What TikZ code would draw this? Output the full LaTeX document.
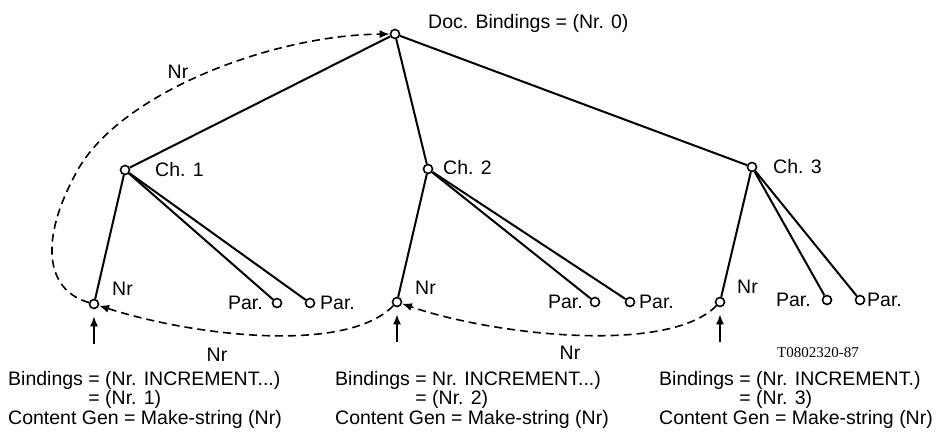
\documentclass[tikz,border=0pt]{standalone}
\usepackage{fontspec}
\setmainfont{Liberation Sans}
\newfontfamily\figidfont{Liberation Serif}
\usetikzlibrary{positioning,arrows.meta}

\begin{document}
\begin{tikzpicture}[x=1pt,y=-1pt,font=\fontsize{19.5}{17}\selectfont,
  dot/.style={circle,draw,fill=white,line width=1.6pt,minimum size=9pt,inner sep=0pt},
  lbl/.style={inner sep=0pt,anchor=west},
  edge/.style={line width=2pt},
  nrflow/.style={dash pattern=on 8pt off 5pt,line width=1.6pt,-{Latex[length=10pt,width=8pt]}},
  uparrow/.style={line width=1.6pt,-{Latex[length=10pt,width=8pt]}},
  binding/.style={inner sep=0pt,anchor=base west,align=left}]
\useasboundingbox (0,0) rectangle (939,434);
% tree
\node[dot] (doc) at (395,34) {};
\node[dot] (ch1) at (125,170) {};
\node[dot] (ch2) at (428,169) {};
\node[dot] (ch3) at (752,167) {};
\node[dot] (nr1) at (94,304) {};
\node[dot] (p1a) at (277,303) {};
\node[dot] (p1b) at (310,303) {};
\node[dot] (nr2) at (397,302) {};
\node[dot] (p2a) at (595,302) {};
\node[dot] (p2b) at (630,302) {};
\node[dot] (nr3) at (720,302) {};
\node[dot] (p3a) at (827,300) {};
\node[dot] (p3b) at (860,300) {};
\foreach \c in {ch1,ch2,ch3} \draw[edge] (doc) -- (\c);
\draw[edge] (ch1) -- (nr1); \draw[edge] (ch1) -- (p1a); \draw[edge] (ch1) -- (p1b);
\draw[edge] (ch2) -- (nr2); \draw[edge] (ch2) -- (p2a); \draw[edge] (ch2) -- (p2b);
\draw[edge] (ch3) -- (nr3); \draw[edge] (ch3) -- (p3a); \draw[edge] (ch3) -- (p3b);
% labels
\node[lbl] (doclbl) at (428,23) {Doc. Bindings = (Nr. 0)};
\node[lbl] (ch1lbl) at (155,170) {Ch. 1};
\node[lbl] (ch2lbl) at (443,168) {Ch. 2};
\node[lbl] (ch3lbl) at (773,167) {Ch. 3};
\node[lbl] (nr1lbl) at (112,289) {Nr};
\node[lbl] (nr2lbl) at (415,288) {Nr};
\node[lbl] (nr3lbl) at (737,287) {Nr};
\node[lbl,anchor=east] (p1albl) at (263,303) {Par.};
\node[lbl] (p1blbl) at (320,303) {Par.};
\node[lbl,anchor=east] (p2albl) at (583,302) {Par.};
\node[lbl] (p2blbl) at (639,302) {Par.};
\node[lbl,anchor=east] (p3albl) at (811,300) {Par.};
\node[lbl] (p3blbl) at (867,300) {Par.};
% numbering flow
\draw[nrflow] (nr1) .. controls (45,290) and (40,240) .. (75,175) .. controls (115,95) and (270,35) .. (doc);
\draw[nrflow] (nr2) .. controls (345,355) and (190,335) .. (nr1);
\draw[nrflow] (nr3) .. controls (668,355) and (493,335) .. (nr2);
\node (flow1) at (178,72) {Nr};
\node (flow2) at (217,355) {Nr};
\node (flow3) at (570,353) {Nr};
\coordinate (in1) at (94,344);
\coordinate (in2) at (397,342);
\coordinate (in3) at (720,342);
\draw[uparrow] (in1) -- ([yshift=-7pt]nr1.south);
\draw[uparrow] (in2) -- ([yshift=-7pt]nr2.south);
\draw[uparrow] (in3) -- ([yshift=-7pt]nr3.south);
\node[font=\figidfont\fontsize{15}{15}\selectfont] (figid) at (818,353) {T0802320-87};
% bindings
\node[binding] (bind1) at (8,424) {Bindings = (Nr. INCREMENT...)\\\hphantom{Bindings }= (Nr. 1)\\Content Gen = Make-string (Nr)};
\node[binding] (bind2) at (335,424) {Bindings = Nr. INCREMENT...)\\\hphantom{Bindings }= (Nr. 2)\\Content Gen = Make-string (Nr)};
\node[binding] (bind3) at (659,424) {Bindings = (Nr. INCREMENT.)\\\hphantom{Bindings }= (Nr. 3)\\Content Gen = Make-string (Nr)};
\end{tikzpicture}
\end{document}
